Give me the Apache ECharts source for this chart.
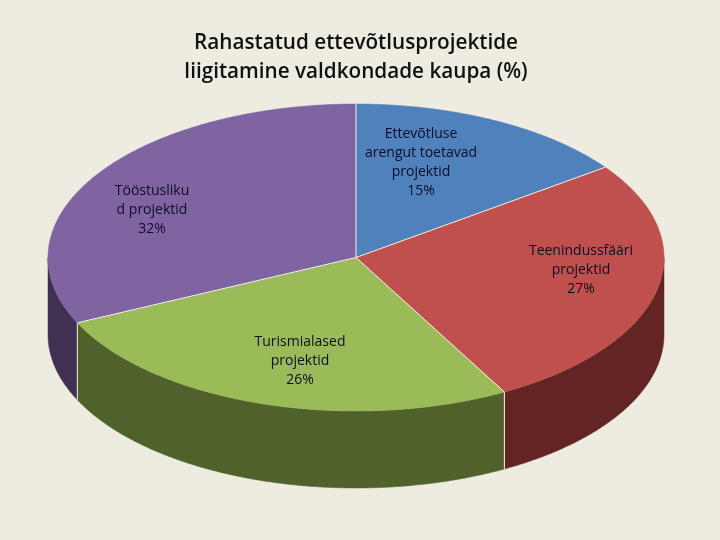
<!DOCTYPE html>
<html>
<head>
<meta charset="utf-8">
<style>html,body{margin:0;padding:0;background:#eeece1}#c{width:720px;height:540px}</style>
<script src="https://cdn.jsdelivr.net/npm/echarts@6/dist/echarts.min.js"></script>
</head>
<body>
<div id="c"></div>
<script>
const titleText = 'Rahastatud ettevõtlusprojektide\nliigitamine valdkondade kaupa (%)';
const categories = ['Ettevõtluse\narengut toetavad\nprojektid', 'Teenindussfääri\nprojektid', 'Turismialased\nprojektid', 'Tööstusliku\nd projektid'];
const values = [15, 27, 26, 32];

const topColors = ['#4f81bd', '#c0504d', '#9bbb59', '#8064a2'];
const wallColors = ['#2a4a70', '#632523', '#4f622b', '#403152'];
const geo = { cx: 356, cy: 257.5, rx: 308, ry: 153.5, depth: 77 };
const labelAnchors = [[421, 134], [581, 251], [300, 342], [152, 191]];
const labelFont = '14px "Open Sans", sans-serif';
const labelStep = 19;

const total = values.reduce((a, b) => a + b, 0);
const starts = [];
values.reduce((acc, v, i) => { starts[i] = acc; return acc + v; }, 0);
const angle = share => share / total * Math.PI * 2;
const rim = (a, drop) => [geo.cx + geo.rx * Math.sin(a), geo.cy - geo.ry * Math.cos(a) + (drop || 0)];
function arc(a0, a1, drop) {
  const n = Math.max(2, Math.ceil((a1 - a0) / 0.01));
  const pts = [];
  for (let k = 0; k <= n; k++) pts.push(rim(a0 + (a1 - a0) * k / n, drop));
  return pts;
}

function renderWall(params, api) {
  const i = params.dataIndex;
  const a0 = Math.max(angle(starts[i]), Math.PI / 2);
  const a1 = Math.min(angle(starts[i] + api.value(0)), Math.PI * 1.5);
  if (a1 <= a0) return { type: 'group', children: [] };
  const pts = arc(a0, a1, 0).concat(arc(a0, a1, geo.depth).reverse());
  const children = [{ type: 'polygon', shape: { points: pts }, style: { fill: wallColors[i], stroke: wallColors[i], lineWidth: 0.5 } }];
  if (a0 > Math.PI / 2) {
    children.push({ type: 'polyline', shape: { points: [rim(a0, 0), rim(a0, geo.depth)] }, style: { fill: null, stroke: '#f4f2ea', lineWidth: 1 } });
  }
  return { type: 'group', children };
}

function renderTop(params, api) {
  const i = params.dataIndex;
  const a0 = angle(starts[i]);
  const a1 = angle(starts[i] + api.value(0));
  const pts = [[geo.cx, geo.cy]].concat(arc(a0, a1, 0));
  return { type: 'polygon', shape: { points: pts }, style: { fill: topColors[i], stroke: topColors[i], lineWidth: 0.5 } };
}

function renderEdge(params, api) {
  const i = params.dataIndex;
  const a0 = angle(starts[i]);
  return { type: 'polyline', shape: { points: [[geo.cx, geo.cy], rim(a0, 0)] }, style: { fill: null, stroke: '#f4f2ea', lineWidth: 1 } };
}

function renderLabel(params, api) {
  const i = params.dataIndex;
  const lines = categories[i].split('\n').concat(api.value(0) + '%');
  const [x, y] = labelAnchors[i];
  return {
    type: 'group',
    children: lines.map((t, k) => ({
      type: 'text',
      style: { text: t, x, y: y + k * labelStep, font: labelFont, fill: '#0d0d26', align: 'center', verticalAlign: 'middle' }
    }))
  };
}

const seriesData = values.map((v, i) => ({ name: categories[i].replace(/\n/g, ' '), value: [v] }));
const layer = (fn, z) => ({ type: 'custom', coordinateSystem: 'none', renderItem: fn, data: seriesData, z, silent: true, animation: false });

const chart = echarts.init(document.getElementById('c'), null, { renderer: 'canvas' });
chart.setOption({
  backgroundColor: '#eeece1',
  animation: false,
  title: {
    text: titleText,
    left: 351,
    top: 24,
    textAlign: 'center',
    textStyle: { fontFamily: '"Open Sans", sans-serif', fontSize: 20.7, fontWeight: 600, color: '#111111', lineHeight: 29 }
  },
  series: [layer(renderWall, 1), layer(renderTop, 2), layer(renderEdge, 3), layer(renderLabel, 4)]
});
</script>
</body>
</html>
